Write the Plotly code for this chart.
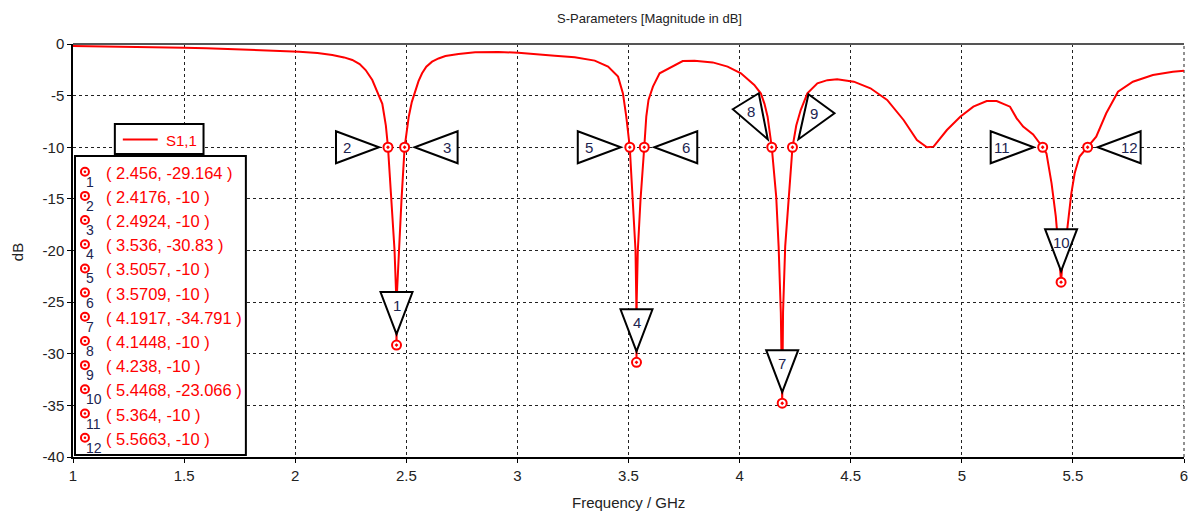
import plotly.graph_objects as go

# ---------------- data ----------------
freq_ghz = [1.0, 1.15, 1.345, 1.5, 1.6, 1.7, 1.79, 1.9, 2.018, 2.1, 2.167, 2.22, 2.257, 2.29,
            2.317, 2.347, 2.377, 2.392, 2.399, 2.408, 2.4176, 2.431, 2.447, 2.4535, 2.456,
            2.4587, 2.4663, 2.4784, 2.4924, 2.50, 2.511, 2.525, 2.541, 2.555, 2.571, 2.59,
            2.616, 2.645, 2.676, 2.735, 2.81, 2.915, 3.004, 3.079, 3.168, 3.258, 3.348,
            3.408, 3.453, 3.475, 3.49, 3.5057, 3.5194, 3.5315, 3.535, 3.536, 3.537, 3.542,
            3.554, 3.5709, 3.58, 3.59, 3.61, 3.64, 3.692, 3.744, 3.797, 3.879, 3.946, 4.006,
            4.066, 4.096, 4.112, 4.126, 4.1448, 4.1648, 4.1756, 4.1855, 4.1917, 4.1955,
            4.2052, 4.2204, 4.238, 4.255, 4.275, 4.305, 4.35, 4.395, 4.439, 4.514, 4.589,
            4.664, 4.738, 4.798, 4.843, 4.873, 4.933, 4.993, 5.052, 5.112, 5.157, 5.217,
            5.247, 5.276, 5.321, 5.364, 5.381, 5.404, 5.423, 5.438, 5.4468, 5.455, 5.475,
            5.493, 5.508, 5.530, 5.5663, 5.605, 5.65, 5.703, 5.77, 5.86, 5.95, 6.0]
s11_db = [-0.19, -0.22, -0.26, -0.36, -0.42, -0.5, -0.58, -0.65, -0.74, -0.88, -1.07, -1.3,
          -1.55, -1.95, -2.52, -3.49, -4.94, -5.8, -6.71, -7.9, -10, -15.1, -19.95, -23.8,
          -29.164, -23.8, -19.95, -15.1, -10, -8.6, -7.04, -5.6, -4.46, -3.6, -2.84, -2.2,
          -1.71, -1.4, -1.16, -0.97, -0.81, -0.78, -0.84, -1.0, -1.14, -1.29, -1.61,
          -2.19, -3.16, -4.78, -7.04, -10, -15.1, -19.95, -24.8, -30.83, -24.8, -19.95,
          -15.1, -10, -7.04, -5.42, -4.13, -2.84, -2.26, -1.65, -1.62, -1.78, -2.19, -2.84,
          -3.97, -4.8, -5.8, -7.04, -10, -14.8, -19.6, -26, -34.791, -26,
          -19.6, -14.8, -10, -7.9, -6.4, -4.78, -3.81, -3.5, -3.42, -3.65, -4.29,
          -5.42, -7.36, -9.3, -10.0, -9.94, -8.33, -7.04, -6.07, -5.52, -5.52, -6.07,
          -7.2, -8.0, -8.75, -10, -10.6, -13.5, -16.7, -20.5, -23.066, -20.5, -17.85,
          -14.46, -12.52, -10.9, -10, -8.97, -6.71, -4.62, -3.65, -3.0, -2.68, -2.58]

marker_ids = [1, 2, 3, 4, 5, 6, 7, 8, 9, 10, 11, 12]
marker_freq = [2.456, 2.4176, 2.4924, 3.536, 3.5057, 3.5709, 4.1917, 4.1448, 4.238,
               5.4468, 5.364, 5.5663]
marker_db = [-29.164, -10, -10, -30.83, -10, -10, -34.791, -10, -10, -23.066, -10, -10]
marker_pointer = ["down", "right", "left", "down", "right", "left", "down", "downright",
                  "downleft", "down", "right", "left"]

x_ticks = [1, 1.5, 2, 2.5, 3, 3.5, 4, 4.5, 5, 5.5, 6]
y_ticks = [0, -5, -10, -15, -20, -25, -30, -35, -40]
series_name = "S1,1"
title_text = "S-Parameters [Magnitude in dB]"
x_title = "Frequency / GHz"
y_title = "dB"

# ---------------- layout constants ----------------
W, H = 1195, 513
L, R, T, B = 73, 7, 44, 56
PW = W - L - R
PH = H - T - B
FONT = "Liberation Sans, Arial, sans-serif"
RED = "#ff0000"
NUM = "#1c2450"
TXT = "#222222"


def px(x):
    return (x - L) / PW


def py(y):
    return (H - B - y) / PH


# triangle pointer geometry: pixel offsets (y up) and label offset
TRI = {
    "down": ([(-16, 53), (16, 53), (0, 11)], (0, 40)),
    "right": ([(-52, 16), (-52, -16), (-9, 0)], (-41, 0)),
    "left": ([(53, 16), (53, -16), (10, 0)], (42, 0)),
    "downright": ([(-39, 38), (-13, 54), (-4, 8)], (-21, 36)),
    "downleft": ([(16, 53), (42, 34), (6, 8)], (22, 34)),
}

fig = go.Figure()
fig.add_trace(go.Scatter(x=freq_ghz, y=s11_db, mode="lines", name=series_name,
                         line=dict(color=RED, width=2), hoverinfo="skip"))
fig.add_trace(go.Scatter(x=marker_freq, y=marker_db, mode="markers",
                         marker=dict(symbol="circle", size=9, color="white"), hoverinfo="skip"))
fig.add_trace(go.Scatter(x=marker_freq, y=marker_db, mode="markers",
                         marker=dict(symbol="circle-open-dot", size=9, color=RED,
                                     line=dict(width=2, color=RED)), hoverinfo="skip"))

shapes = []
annotations = []

# frame: top solid, right dashed
shapes.append(dict(type="line", xref="paper", yref="paper", x0=0, x1=1, y0=1, y1=1,
                   line=dict(color="#555555", width=2), layer="above"))
shapes.append(dict(type="line", xref="paper", yref="paper", x0=1, x1=1, y0=0, y1=1,
                   line=dict(color="#222222", width=1, dash="3px,3px"), layer="below"))

# marker pointer triangles and numbers
for mid, f, d, p in zip(marker_ids, marker_freq, marker_db, marker_pointer):
    pts, (lx, ly) = TRI[p]
    path = "M {} {} L {} {} L {} {} Z".format(*[v for pt in pts for v in pt])
    shapes.append(dict(type="path", xref="x", yref="y", xsizemode="pixel",
                       ysizemode="pixel", xanchor=f, yanchor=d, path=path,
                       fillcolor="white", line=dict(color="black", width=2), layer="above"))
    annotations.append(dict(x=f, y=d, xref="x", yref="y", xshift=lx, yshift=ly,
                            xanchor="center", yanchor="middle",
                            text=str(mid), showarrow=False,
                            font=dict(family=FONT, size=15, color=NUM)))

# legend box "S1,1"
shapes.append(dict(type="rect", xref="paper", yref="paper", x0=px(115), x1=px(204),
                   y0=py(154), y1=py(124), fillcolor="white",
                   line=dict(color="black", width=2), layer="above"))
shapes.append(dict(type="line", xref="paper", yref="paper", x0=px(123), x1=px(158),
                   y0=py(139.5), y1=py(139.5), line=dict(color=RED, width=2), layer="above"))
annotations.append(dict(x=px(164), y=py(140), xref="paper", yref="paper", xanchor="left",
                        yanchor="middle", text=series_name, showarrow=False,
                        font=dict(family=FONT, size=15, color=RED)))

# marker table box
shapes.append(dict(type="rect", xref="paper", yref="paper", x0=px(75), x1=px(246.5),
                   y0=py(455), y1=py(156), fillcolor="white",
                   line=dict(color="black", width=2), layer="above"))
row0, row_step = 171.7, 24.18
for i, (mid, f, d) in enumerate(zip(marker_ids, marker_freq, marker_db)):
    yr = row0 + i * row_step
    shapes.append(dict(type="circle", xref="paper", yref="paper", xsizemode="pixel",
                       ysizemode="pixel", xanchor=px(85), yanchor=py(yr),
                       x0=-4, x1=4, y0=-4, y1=4, fillcolor="white",
                       line=dict(color=RED, width=2), layer="above"))
    shapes.append(dict(type="circle", xref="paper", yref="paper", xsizemode="pixel",
                       ysizemode="pixel", xanchor=px(85), yanchor=py(yr),
                       x0=-1.3, x1=1.3, y0=-1.3, y1=1.3, fillcolor=RED,
                       line=dict(color=RED, width=0), layer="above"))
    annotations.append(dict(x=px(104), y=py(yr + 1), xref="paper", yref="paper",
                            xanchor="left", yanchor="middle",
                            text="( {:g}, {:g} )".format(f, d), showarrow=False,
                            font=dict(family=FONT, size=16.5, color=RED)))
    annotations.append(dict(x=px(84), y=py(yr + 10), xref="paper", yref="paper",
                            xanchor="left", yanchor="middle", text=str(mid),
                            showarrow=False, font=dict(family=FONT, size=14, color=NUM)))

# titles
annotations.append(dict(x=px(652), y=py(18), xref="paper", yref="paper", text=title_text,
                        xanchor="center", yanchor="middle",
                        showarrow=False, font=dict(family=FONT, size=13, color=TXT)))
annotations.append(dict(x=px(631), y=py(502), xref="paper", yref="paper", text=x_title,
                        xanchor="center", yanchor="middle",
                        showarrow=False, font=dict(family=FONT, size=15, color=TXT)))
annotations.append(dict(x=px(18), y=py(252), xref="paper", yref="paper", text=y_title,
                        xanchor="center", yanchor="middle",
                        textangle=-90, showarrow=False,
                        font=dict(family=FONT, size=15, color=TXT)))

axis_common = dict(showgrid=True, gridcolor="#222222", gridwidth=1, griddash="3px,3px",
                   zeroline=False, showline=True, linecolor="black", linewidth=1.5,
                   ticks="outside", ticklen=4, tickcolor="black", tickwidth=1,
                   tickfont=dict(family=FONT, size=15, color=TXT), mirror=False)

fig.update_layout(
    width=W, height=H, autosize=False,
    margin=dict(l=L, r=R, t=T, b=B, pad=0),
    paper_bgcolor="white", plot_bgcolor="white",
    showlegend=False, hovermode=False,
    shapes=shapes, annotations=annotations,
    xaxis=dict(range=[1, 6], tickvals=x_ticks, ticktext=[f"{v:g}" for v in x_ticks],
               **axis_common),
    yaxis=dict(range=[-40, 0], tickvals=y_ticks, ticktext=[f"{v:g}" for v in y_ticks],
               **axis_common),
)

fig.write_html("out.html", config={"displayModeBar": False},
               post_script="document.body.style.margin='0px';document.body.style.overflow='hidden';")
